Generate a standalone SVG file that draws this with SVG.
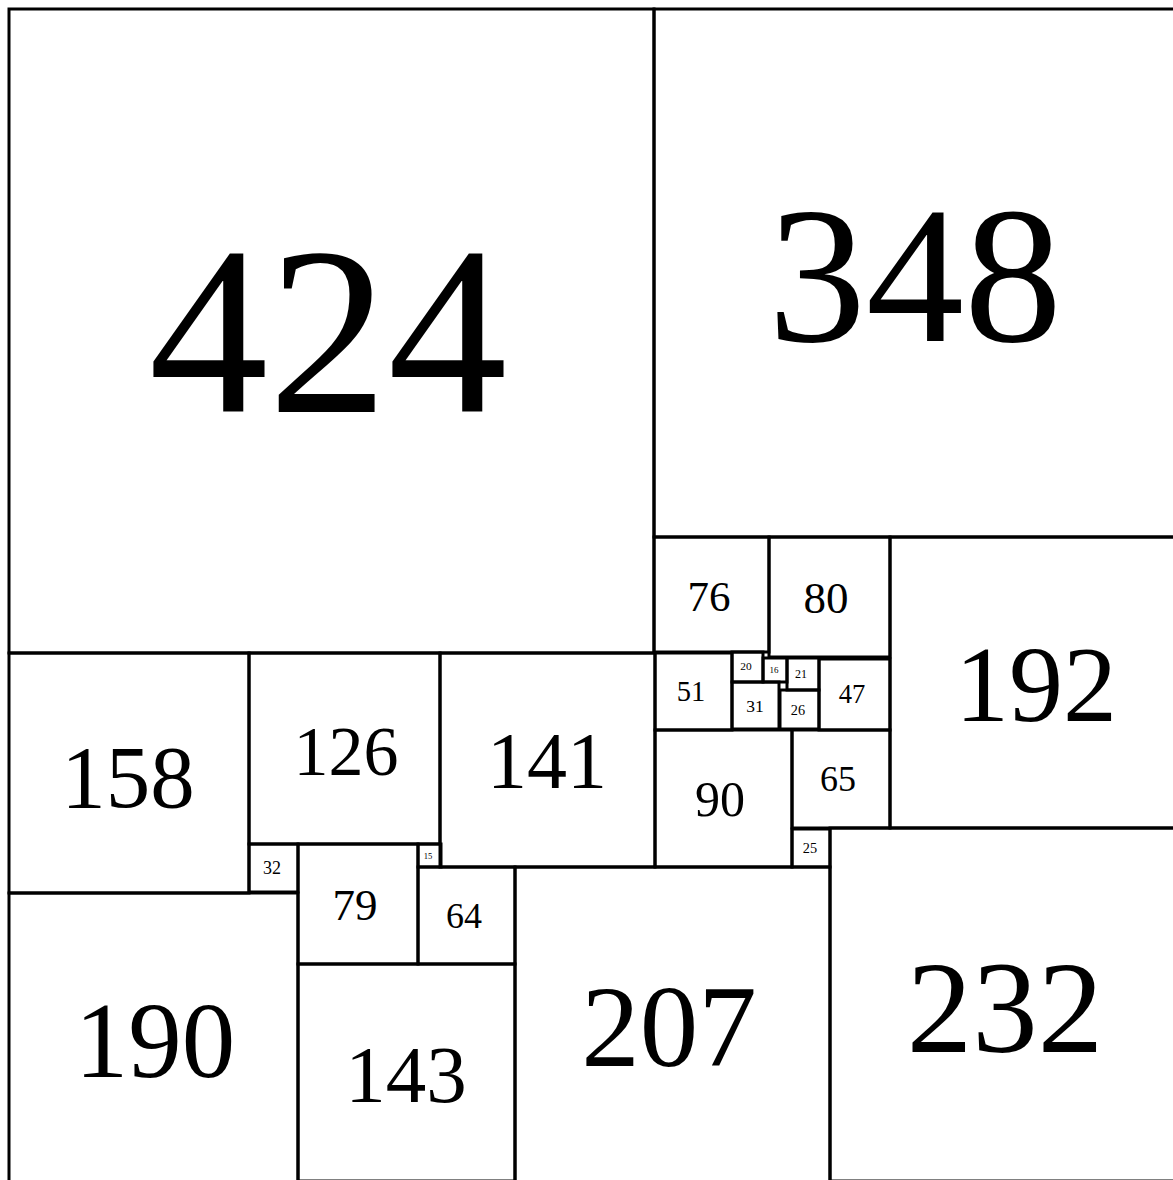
<svg xmlns="http://www.w3.org/2000/svg" width="1173" height="1180" viewBox="0 0 1173 1180">
<style>
rect{fill:none;stroke:#000;stroke-width:3}
text{font-family:"Liberation Serif","Times New Roman",serif;text-anchor:middle;dominant-baseline:central;fill:#000}
</style>
<rect x="0" y="0" width="1173" height="1180" style="fill:#fff;stroke:none"/>
<g id="s424"><rect x="9" y="9" width="645" height="644"/><text x="328" y="331" font-size="239">424</text></g>
<g id="s348"><rect x="654" y="9" width="529" height="528"/><text x="915" y="274" font-size="196">348</text></g>
<g id="s76"><rect x="654" y="537" width="115" height="115"/><text x="709" y="596" font-size="43">76</text></g>
<g id="s80"><rect x="769" y="537" width="121" height="120"/><text x="826" y="598" font-size="45">80</text></g>
<g id="s192"><rect x="890" y="537" width="293" height="291"/><text x="1036" y="684" font-size="108">192</text></g>
<g id="s158"><rect x="9" y="653" width="240" height="240"/><text x="128" y="777" font-size="89">158</text></g>
<g id="s126"><rect x="249" y="653" width="191" height="191"/><text x="346" y="751" font-size="70">126</text></g>
<g id="s141"><rect x="440" y="653" width="215" height="214"/><text x="547" y="761" font-size="80">141</text></g>
<g id="s51"><rect x="655" y="653" width="77" height="77"/><text x="691" y="691" font-size="28.5">51</text></g>
<g id="s20"><rect x="732" y="652" width="31" height="30"/><text x="746" y="666" font-size="11.4">20</text></g>
<g id="s16"><rect x="763" y="658" width="24" height="24"/><text x="774" y="670" font-size="9">16</text></g>
<g id="s21"><rect x="787" y="658" width="32" height="32"/><text x="801" y="674" font-size="12">21</text></g>
<g id="s47"><rect x="819" y="659" width="71" height="71"/><text x="852" y="694" font-size="26.6">47</text></g>
<g id="s31"><rect x="732" y="682" width="47" height="47"/><text x="755" y="706" font-size="17.5">31</text></g>
<g id="s26"><rect x="780" y="690" width="39" height="39"/><text x="798" y="710" font-size="14.3">26</text></g>
<g id="s90"><rect x="655" y="730" width="137" height="137"/><text x="720" y="799" font-size="50">90</text></g>
<g id="s65"><rect x="792" y="730" width="98" height="98"/><text x="838" y="779" font-size="36">65</text></g>
<g id="s25"><rect x="792" y="829" width="38" height="38"/><text x="810" y="848" font-size="14.3">25</text></g>
<g id="s32"><rect x="249" y="844" width="49" height="48"/><text x="272" y="868" font-size="18">32</text></g>
<g id="s15"><rect x="418" y="844" width="23" height="23"/><text x="428" y="856" font-size="8.6">15</text></g>
<g id="s79"><rect x="298" y="844" width="120" height="120"/><text x="355" y="905" font-size="45">79</text></g>
<g id="s64"><rect x="418" y="867" width="97" height="97"/><text x="464" y="916" font-size="36">64</text></g>
<g id="s190"><rect x="9" y="893" width="289" height="290"/><text x="155" y="1041" font-size="107">190</text></g>
<g id="s143"><rect x="298" y="964" width="217" height="217"/><text x="406" y="1075" font-size="81">143</text></g>
<g id="s207"><rect x="515" y="867" width="315" height="315"/><text x="669" y="1026" font-size="117">207</text></g>
<g id="s232"><rect x="830" y="828" width="353" height="353"/><text x="1005" y="1007" font-size="131">232</text></g>
<g id="connectors"></g>
</svg>
